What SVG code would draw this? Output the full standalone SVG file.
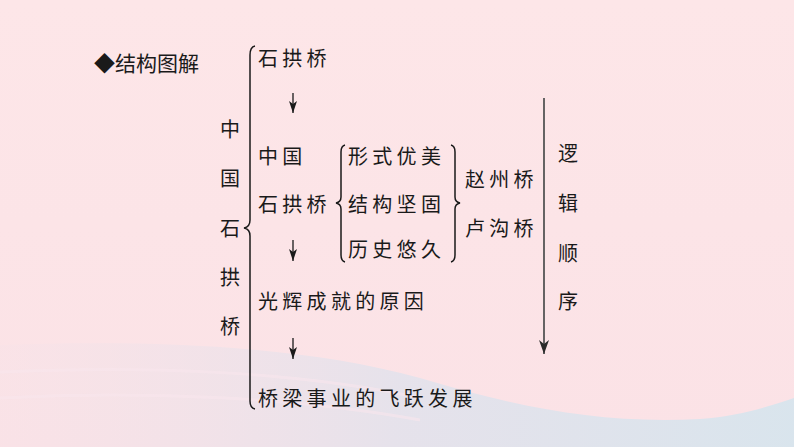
<svg xmlns="http://www.w3.org/2000/svg" width="794" height="447" viewBox="0 0 794 447">
<defs>
<style>
text{font-family:"Noto Sans CJK SC","Noto Sans CJK JP",sans-serif;fill:#1a1a1a;font-size:20px;dominant-baseline:central}
.t{letter-spacing:4.3px}
.v{text-anchor:middle}
.br{fill:none;stroke:#1a1a1a;stroke-width:1.5}
.ar{stroke:#1a1a1a;stroke-width:1.3;fill:none}
.lar{stroke:#555;stroke-width:1.8;fill:none}
</style>
<marker id="ah" viewBox="0 0 8 12" refX="4" refY="12" markerWidth="8" markerHeight="12" markerUnits="userSpaceOnUse">
<path d="M0,0 L4,3 L8,0 L4,12 Z" fill="#1a1a1a"/>
</marker>
<marker id="ah2" viewBox="0 0 10 14" refX="5" refY="14" markerWidth="10" markerHeight="14" markerUnits="userSpaceOnUse">
<path d="M0,0 L5,4 L10,0 L5,14 Z" fill="#2a2a2a"/>
</marker>
<linearGradient id="bg" x1="0" y1="0" x2="0" y2="1">
<stop offset="0" stop-color="#fde6e8"/>
<stop offset="1" stop-color="#fbe2e6"/>
</linearGradient>
<linearGradient id="wv" x1="0" y1="0" x2="1" y2="0">
<stop offset="0" stop-color="#f6e2e8" stop-opacity="0.4"/>
<stop offset="0.5" stop-color="#e2e2ec"/>
<stop offset="1" stop-color="#d3e5ee"/>
</linearGradient>
</defs>
<rect width="794" height="447" fill="url(#bg)"/>
<path d="M0,345 C150,340 300,345 420,378 C520,408 600,424 700,419 C740,416 770,406 794,398 L794,447 L0,447 Z" fill="url(#wv)" opacity="0.85"/>
<path d="M0,372 C150,365 300,372 420,398" fill="none" stroke="#f8e6ec" stroke-width="3" opacity="0.6"/>
<path d="M0,398 C150,390 300,398 420,420" fill="none" stroke="#f8e6ec" stroke-width="3" opacity="0.6"/>

<g id="title"><text x="94" y="62" style="font-size:21px">◆结构图解</text></g>

<g id="root">
<text class="v" x="230" y="128">中</text>
<text class="v" x="230" y="177">国</text>
<text class="v" x="230" y="227">石</text>
<text class="v" x="230" y="276">拱</text>
<text class="v" x="230" y="325">桥</text>
</g>

<g id="n1"><text class="t" x="258" y="57">石拱桥</text></g>
<g id="n2"><text class="t" x="258" y="155">中国</text><text class="t" x="258" y="203">石拱桥</text></g>
<g id="n3"><text class="t" x="348" y="155">形式优美</text><text class="t" x="348" y="203">结构坚固</text><text class="t" x="348" y="248">历史悠久</text></g>
<g id="n4"><text class="t" x="465" y="178">赵州桥</text><text class="t" x="465" y="227">卢沟桥</text></g>
<g id="n5"><text class="t" x="258" y="300">光辉成就的原因</text></g>
<g id="n6"><text class="t" x="258" y="397">桥梁事业的飞跃发展</text></g>
<g id="order">
<text class="v" x="568" y="152">逻</text>
<text class="v" x="568" y="202">辑</text>
<text class="v" x="568" y="252">顺</text>
<text class="v" x="568" y="300">序</text>
</g>

<g id="connectors">
<path class="br" d="M255,46 Q250,47 250,55 L250,220 Q250,227 244,228 Q250,229 250,236 L250,401 Q250,408 255,409"/>
<path class="br" d="M345,145 Q341,146 341,152 L341,197 Q341,202 336,203 Q341,204 341,209 L341,255 Q341,261 345,262"/>
<path class="br" d="M451,145 Q455,146 455,152 L455,197 Q455,202 460,203 Q455,204 455,209 L455,255 Q455,261 451,262"/>
<line class="ar" x1="293" y1="93" x2="293" y2="113" marker-end="url(#ah)"/>
<line class="ar" x1="293" y1="240" x2="293" y2="261" marker-end="url(#ah)"/>
<line class="ar" x1="293" y1="338" x2="293" y2="359" marker-end="url(#ah)"/>
<line class="lar" x1="544" y1="98" x2="544" y2="354" marker-end="url(#ah2)"/>
</g>
</svg>
